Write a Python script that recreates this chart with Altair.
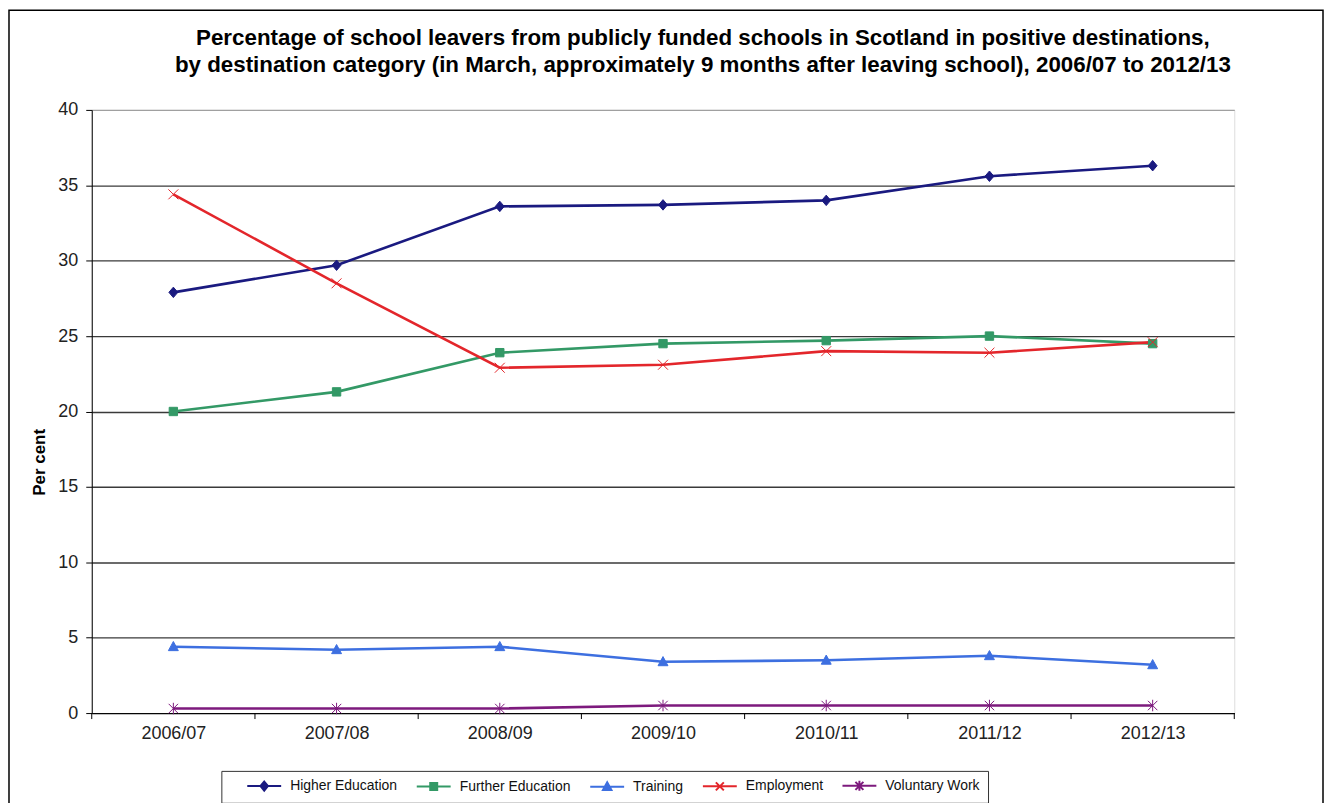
import altair as alt
import pandas as pd

years = ["2006/07", "2007/08", "2008/09", "2009/10", "2010/11", "2011/12", "2012/13"]
series = ["Higher Education", "Further Education", "Training", "Employment", "Voluntary Work"]
higher_education = [27.9, 29.7, 33.6, 33.7, 34.0, 35.6, 36.3]
further_education = [20.0, 21.3, 23.9, 24.5, 24.7, 25.0, 24.5]
training = [4.4, 4.2, 4.4, 3.4, 3.5, 3.8, 3.2]
employment = [34.4, 28.5, 22.9, 23.1, 24.0, 23.9, 24.6]
voluntary_work = [0.3, 0.3, 0.3, 0.5, 0.5, 0.5, 0.5]
colors = ["#1a1a80", "#339966", "#3d6fe0", "#e3262b", "#7d1a7d"]

values = [higher_education, further_education, training, employment, voluntary_work]
rows = []
for s, vals in zip(series, values):
    for i, (yr, v) in enumerate(zip(years, vals)):
        rows.append({"Series": s, "Year": yr, "idx": i, "Value": v})
df = pd.DataFrame(rows)

bounds = pd.DataFrame({"b": [i - 0.5 for i in range(len(years) + 1)]})

W, H = 1146, 605
FONT = "Liberation Sans"

plot_shapes = [
    "M0,-1L0.85,0L0,1L-0.85,0Z",
    "M-0.8,-0.8L0.8,-0.8L0.8,0.8L-0.8,0.8Z",
    "M0,-1L0.95,0.75L-0.95,0.75Z",
    "M-0.95,-0.95L0.95,0.95M-0.95,0.95L0.95,-0.95",
    "M-0.9,-0.9L0.9,0.9M-0.9,0.9L0.9,-0.9M0,-1.1L0,1.1",
]
legend_shapes = [
    "M-3.4,0L3.4,0M0,-0.9L0.75,0L0,0.9L-0.75,0Z",
    "M-3.4,0L3.4,0M-0.7,-0.7L0.7,-0.7L0.7,0.7L-0.7,0.7Z",
    "M-3.4,0L3.4,0M0,-0.9L0.85,0.65L-0.85,0.65Z",
    "M-3.4,0L3.4,0M-0.8,-0.8L0.8,0.8M-0.8,0.8L0.8,-0.8",
    "M-3.4,0L3.4,0M-0.8,-0.8L0.8,0.8M-0.8,0.8L0.8,-0.8M0,-1L0,1",
]

label_expr = "[" + ",".join("'%s'" % y for y in years) + "][datum.value]"

x_enc = alt.X(
    "idx:Q",
    scale=alt.Scale(domain=[-0.5, len(years) - 0.5], nice=False, zero=False),
    axis=alt.Axis(
        values=list(range(len(years))),
        labelExpr=label_expr,
        ticks=False,
        grid=False,
        title=None,
        domainColor="#000000",
        domainWidth=1,
        labelFont=FONT,
        labelFontSize=18,
        labelColor="#222222",
        labelPadding=12,
        labelBaseline="top",
    ),
)
y_enc = alt.Y(
    "Value:Q",
    scale=alt.Scale(domain=[0, 40], nice=False),
    axis=alt.Axis(
        values=[0, 5, 10, 15, 20, 25, 30, 35, 40],
        title="Per cent",
        titleFont=FONT,
        titleFontSize=17,
        titleFontWeight="bold",
        titleColor="#000000",
        titleX=-52,
        titleY=353,
        titleAngle=270,
        titleAlign="center",
        titleBaseline="middle",
        labelFont=FONT,
        labelFontSize=18,
        labelColor="#222222",
        labelPadding=8,
        tickSize=6,
        tickColor="#000000",
        domainColor="#000000",
        gridColor={"condition": {"test": "datum.value === 40", "value": "#a0a0a0"}, "value": "#3a3a3a"},
        gridWidth=1.3,
    ),
)

color_scale = alt.Scale(domain=series, range=colors)

lines = alt.Chart(df).mark_line(strokeWidth=2.6).encode(
    x=x_enc, y=y_enc,
    color=alt.Color("Series:N", scale=color_scale, legend=None),
    detail="Series:N",
)

points = alt.Chart(df).mark_point(filled=True, size=110, strokeWidth=1, opacity=1).encode(
    x="idx:Q", y="Value:Q",
    fill=alt.Fill("Series:N", scale=color_scale, legend=None),
    stroke=alt.Stroke("Series:N", scale=color_scale, legend=None),
    shape=alt.Shape("Series:N", scale=alt.Scale(domain=series, range=plot_shapes), legend=None),
)

leg = alt.Legend(
    title=None,
    orient="none",
    legendX=130,
    legendY=663,
    direction="horizontal",
    padding=8,
    strokeColor="#333333",
    fillColor="#ffffff",
    labelFont=FONT,
    labelFontSize=14,
    labelColor="#111111",
    labelOffset=19,
    symbolOffset=28,
    columnPadding=1,
    symbolSize=100,
    symbolStrokeWidth=2,
    symbolOpacity=1,
)

legend_layer = alt.Chart(df).transform_filter("datum.Value < -1000").mark_point(filled=True).encode(
    x="idx:Q", y="Value:Q",
    fill=alt.Fill("Series:N", scale=alt.Scale(domain=series, range=colors), legend=leg),
    stroke=alt.Stroke("Series:N", scale=alt.Scale(domain=series, range=colors), legend=leg),
    shape=alt.Shape("Series:N", scale=alt.Scale(domain=series, range=legend_shapes), legend=leg),
)

ticks = alt.Chart(bounds).mark_rule(color="#000000", strokeWidth=1).encode(
    x="b:Q", y=alt.value(H), y2=alt.value(H + 6)
)

frame = alt.Chart(pd.DataFrame({"a": [0]})).mark_rect(
    fill=None, stroke="#000000", strokeWidth=1.5, clip=False
).encode(
    x=alt.value(-83), x2=alt.value(W + 89), y=alt.value(-100), y2=alt.value(H + 120)
)

chart = alt.layer(frame, ticks, lines, points, legend_layer).resolve_scale(
    fill="independent", stroke="independent", shape="independent"
).properties(
    width=W,
    height=H,
    padding={"left": 84, "top": 101, "right": 90, "bottom": 89},
    autosize=alt.AutoSizeParams(type="none"),
    title=alt.TitleParams(
        text=[
            "Percentage of school leavers from publicly funded schools in Scotland in positive destinations,",
            "by destination category (in March, approximately 9 months after leaving school), 2006/07 to 2012/13",
        ],
        font=FONT,
        fontSize=22.4,
        fontWeight="bold",
        color="#000000",
        anchor="middle",
        frame="group",
        dx=40,
        lineHeight=27,
        offset=-67,
    ),
).configure_view(stroke="#a0a0a0", strokeWidth=1).configure(background="#ffffff")

chart.save("out.html", embed_options={"renderer": "svg", "actions": False})
